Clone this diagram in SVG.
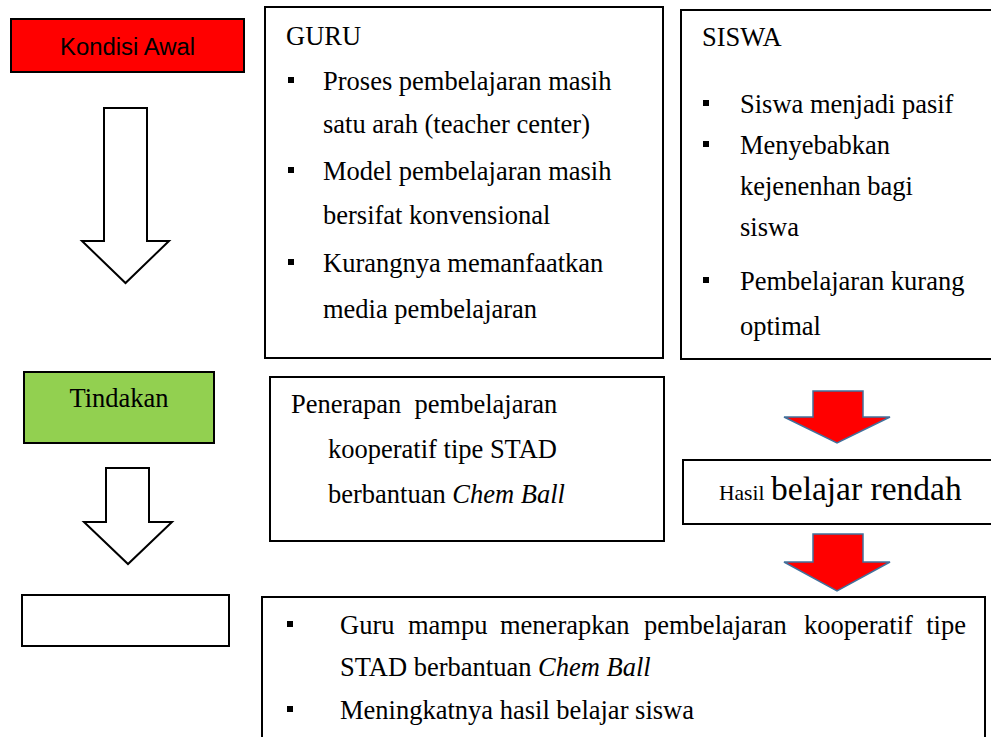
<svg xmlns="http://www.w3.org/2000/svg" width="991" height="737" viewBox="0 0 991 737">
<style>
.box{fill:#fff;stroke:#000;stroke-width:2}
.t{font-family:"Liberation Serif","Times New Roman","DejaVu Serif",serif;font-size:26.5px;fill:#000}
.s{font-family:"Liberation Sans",Arial,sans-serif;fill:#000}
.b{fill:#000}
.open{fill:#fff;stroke:#000;stroke-width:2;stroke-linejoin:miter}
.red{fill:#ff0000;stroke:#41719c;stroke-width:1.5;stroke-linejoin:miter}
</style>
<rect width="991" height="737" fill="#fff"/>
<g id="kondisi-awal">
<rect x="11" y="19" width="233" height="53" fill="#ff0000" stroke="#000" stroke-width="2"/>
<text class="s" x="127.5" y="55" font-size="23" text-anchor="middle" textLength="135" lengthAdjust="spacingAndGlyphs">Kondisi Awal</text>
</g>
<g id="guru">
<rect class="box" x="265" y="7" width="398" height="351"/>
<text class="t" x="286" y="45">GURU</text>
<rect class="b" x="288" y="77" width="6" height="6"/>
<text class="t" x="323" y="90">Proses pembelajaran masih</text>
<text class="t" x="323" y="133">satu arah (teacher center)</text>
<rect class="b" x="288" y="167" width="6" height="6"/>
<text class="t" x="323" y="180">Model pembelajaran masih</text>
<text class="t" x="323" y="224">bersifat konvensional</text>
<rect class="b" x="288" y="259" width="6" height="6"/>
<text class="t" x="323" y="272">Kurangnya memanfaatkan</text>
<text class="t" x="323" y="318">media pembelajaran</text>
</g>
<g id="siswa">
<rect class="box" x="681" y="10" width="320" height="349"/>
<text class="t" x="702" y="46">SISWA</text>
<rect class="b" x="703" y="100" width="6" height="6"/>
<text class="t" x="740" y="113">Siswa menjadi pasif</text>
<rect class="b" x="703" y="141" width="6" height="6"/>
<text class="t" x="740" y="154">Menyebabkan</text>
<text class="t" x="740" y="195">kejenenhan bagi</text>
<text class="t" x="740" y="236">siswa</text>
<rect class="b" x="703" y="277" width="6" height="6"/>
<text class="t" x="740" y="290">Pembelajaran kurang</text>
<text class="t" x="740" y="335">optimal</text>
</g>
<g id="tindakan">
<rect x="24" y="372" width="190" height="71" fill="#92d050" stroke="#000" stroke-width="2"/>
<text class="t" x="119" y="407" text-anchor="middle">Tindakan</text>
</g>
<g id="penerapan">
<rect class="box" x="270" y="377" width="394" height="164"/>
<text class="t" x="291" y="413" xml:space="preserve">Penerapan  pembelajaran</text>
<text class="t" x="328" y="458">kooperatif tipe STAD</text>
<text class="t" x="328" y="503">berbantuan <tspan font-style="italic">Chem Ball</tspan></text>
</g>
<g id="hasil">
<rect class="box" x="683" y="460" width="320" height="64"/>
<text class="t" x="719" y="500"><tspan font-size="21.5">Hasil</tspan> <tspan font-size="33.5">belajar rendah</tspan></text>
</g>
<g id="hasil-akhir-kosong">
<rect class="box" x="22" y="595" width="207" height="51"/>
</g>
<g id="hasil-akhir">
<rect class="box" x="262" y="597" width="723" height="150"/>
<rect class="b" x="287" y="621" width="6" height="6"/>
<text class="t" x="340" y="634">Guru</text>
<text class="t" x="408" y="634">mampu</text>
<text class="t" x="500" y="634">menerapkan</text>
<text class="t" x="644" y="634">pembelajaran</text>
<text class="t" x="804" y="634">kooperatif</text>
<text class="t" x="966" y="634" text-anchor="end">tipe</text>
<text class="t" x="340" y="676">STAD berbantuan <tspan font-style="italic">Chem Ball</tspan></text>
<rect class="b" x="287" y="706" width="6" height="6"/>
<text class="t" x="340" y="719">Meningkatnya hasil belajar siswa</text>
</g>
<g id="connectors">
<path class="open" d="M104,108 H147 V241 H169 L125.5,283 L82,241 H104 Z"/>
<path class="open" d="M106,468 H149 V522 H172 L128,564 L84,522 H106 Z"/>
<path class="red" d="M813,391 H863 V417 H890 L837,443 L784,417 H813 Z"/>
<path class="red" d="M813,534 H863 V562 H890 L837,591 L784,562 H813 Z"/>
</g>
</svg>
